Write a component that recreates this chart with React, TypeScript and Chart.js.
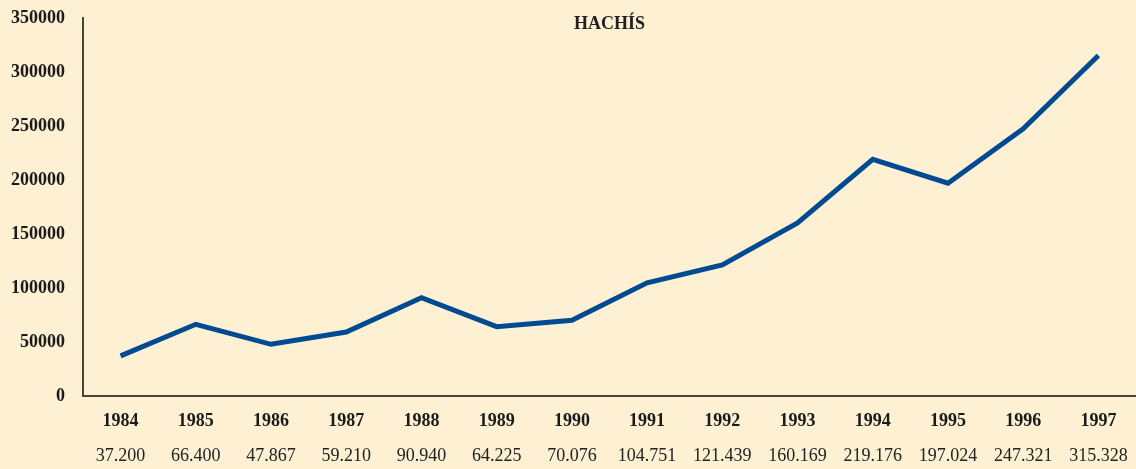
import { useEffect, useRef } from "react";
import { Chart, registerables } from "chart.js";

Chart.register(...registerables);

const years = ["1984","1985","1986","1987","1988","1989","1990","1991","1992","1993","1994","1995","1996","1997"];
const valueLabels = ["37.200","66.400","47.867","59.210","90.940","64.225","70.076","104.751","121.439","160.169","219.176","197.024","247.321","315.328"];
const values = [37200, 66400, 47867, 59210, 90940, 64225, 70076, 104751, 121439, 160169, 219176, 197024, 247321, 315328];
const title = "HACHÍS";

const BG = "#FEF0D3";
const FONT = "'Liberation Serif', serif";

const titlePlugin = {
  id: "innerTitle",
  afterDraw(chart: any) {
    const { ctx, chartArea } = chart;
    ctx.save();
    ctx.font = `bold 18px ${FONT}`;
    ctx.fillStyle = "#222";
    ctx.textAlign = "center";
    ctx.textBaseline = "middle";
    ctx.fillText(title, (chartArea.left + chartArea.right) / 2, 24);
    ctx.restore();
  },
};

const noHPad = (s: any, h: number) => {
  s.height = h;
  s.paddingLeft = 0;
  s.paddingRight = 0;
};

export default function App() {
  const ref = useRef<HTMLCanvasElement>(null);
  useEffect(() => {
    document.body.style.margin = "0";
    document.body.style.background = BG;
    const chart = new Chart(ref.current!, {
      type: "line",
      data: {
        labels: years,
        datasets: [
          {
            data: values,
            borderColor: "#004A92",
            borderWidth: 5,
            pointRadius: 0,
            tension: 0,
            fill: false,
          },
        ],
      },
      plugins: [titlePlugin],
      options: {
        animation: false,
        responsive: false,
        layout: { padding: { top: 18, right: 0, left: 0, bottom: 0 } },
        plugins: { legend: { display: false }, tooltip: { enabled: false } },
        scales: {
          x: {
            type: "category",
            offset: true,
            grid: { display: false, drawTicks: false },
            border: { display: true, color: "#4a4438", width: 2 },
            ticks: { color: "#1a1a1a", font: { family: FONT, size: 18, weight: "bold" }, padding: 15, maxRotation: 0, autoSkip: false },
            afterFit: (s: any) => noHPad(s, 35),
          },
          x2: {
            type: "category",
            position: "bottom",
            labels: valueLabels,
            offset: true,
            grid: { display: false, drawTicks: false },
            border: { display: false },
            ticks: { color: "#222", font: { family: FONT, size: 18 }, padding: 14, maxRotation: 0, autoSkip: false },
            afterFit: (s: any) => noHPad(s, 38),
          },
          y: {
            min: 0,
            max: 350000,
            grid: { display: false, drawTicks: false },
            border: { display: true, color: "#4a4438", width: 2 },
            ticks: {
              stepSize: 50000,
              color: "#1a1a1a",
              font: { family: FONT, size: 18, weight: "bold" },
              padding: 18,
              callback: (v: any) => String(v),
            },
            afterFit: (s: any) => {
              s.width = 83;
              s.paddingTop = 0;
              s.paddingBottom = 0;
            },
          },
        },
      },
    });
    return () => chart.destroy();
  }, []);
  return (
    <div style={{ background: BG, width: 1136, height: 469 }}>
      <canvas ref={ref} width={1136} height={469} />
    </div>
  );
}
